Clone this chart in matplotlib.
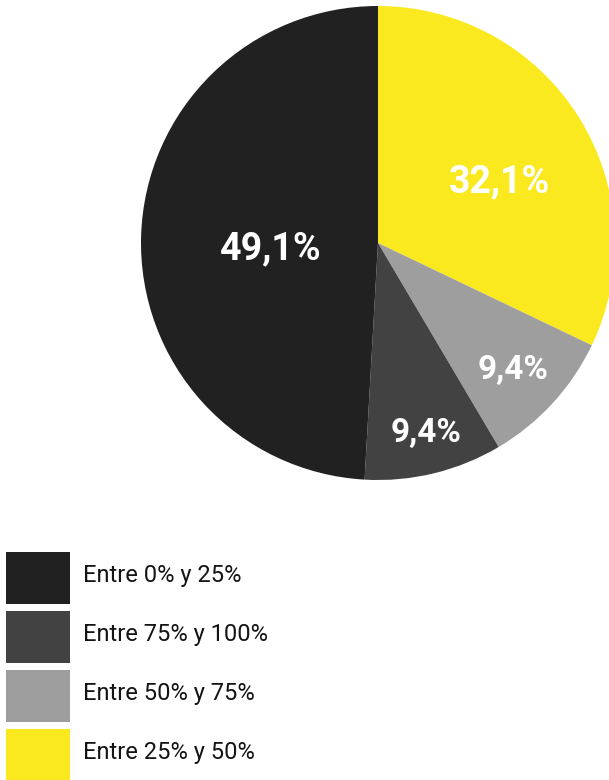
import matplotlib
matplotlib.use('Agg')
import matplotlib.pyplot as plt
from matplotlib.patches import Rectangle
import numpy as np

# slices in drawing order (clockwise from 12 o'clock)
categories = ['Entre 25% y 50%', 'Entre 50% y 75%', 'Entre 75% y 100%', 'Entre 0% y 25%']
shares = [32.1, 9.4, 9.4, 49.1]
colors = ['#fbe920', '#9e9e9e', '#424242', '#212121']

# where each value label sits: fraction of radius, degrees off the slice middle
label_radius = [0.581, 0.773, 0.815, 0.452]
label_turn = [-4.3, 0.0, 0.7, 3.1]
label_size = [27, 24, 24, 27]

# legend order
legend_order = ['Entre 0% y 25%', 'Entre 75% y 100%', 'Entre 50% y 75%', 'Entre 25% y 50%']

W, H = 609, 780
fig = plt.figure(figsize=(W / 100, H / 100), dpi=100)
ax = fig.add_axes([0, 0, 1, 1])

cx, cy, r = 378, H - 243, 237
wedges, _ = ax.pie(shares, colors=colors, startangle=90, counterclock=False,
                   radius=r, center=(cx, cy), frame=True,
                   wedgeprops=dict(linewidth=0))
ax.set_xlim(0, W)
ax.set_ylim(0, H)
ax.set_aspect('equal')
ax.axis('off')

angle = 90.0
for val, rr, turn, fs in zip(shares, label_radius, label_turn, label_size):
    span = val / 100 * 360
    mid = np.deg2rad(angle - span / 2 + turn)
    angle -= span
    half_cap = fs * 100 / 72 * 0.711 / 2
    ax.text(cx + rr * r * np.cos(mid), cy + rr * r * np.sin(mid) - half_cap,
            f'{val:.1f}%'.replace('.', ','), ha='center', va='baseline',
            color='white', fontsize=fs, fontweight='bold', family='Roboto')

# legend boxes
top = H - 552
for i, name in enumerate(legend_order):
    c = colors[categories.index(name)]
    y0 = top - 52 - i * 59
    ax.add_patch(Rectangle((6, y0), 64, 52, facecolor=c, edgecolor='none'))
    ax.text(83, y0 + 22, name, ha='left', va='baseline', fontsize=17,
            family='Roboto', color='#141414')

fig.savefig('out.png', dpi=100)
